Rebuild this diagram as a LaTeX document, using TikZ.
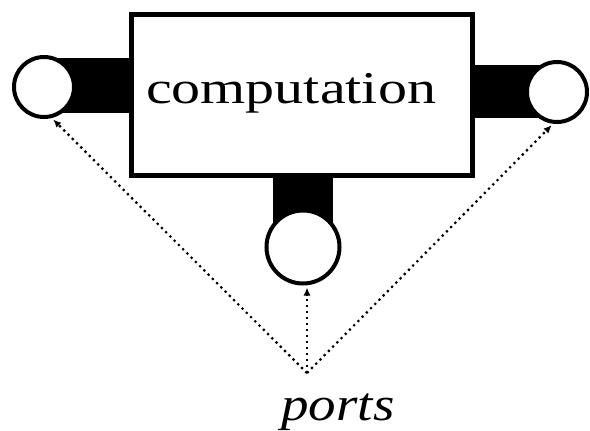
\documentclass[tikz,border=0pt]{standalone}
\usepackage{fontspec}
\usepackage{graphicx}
\setmainfont{Liberation Serif}
\usetikzlibrary{arrows.meta}
\begin{document}
\begin{tikzpicture}[x=1pt,y=-1pt,
  compbox/.style={draw,line width=5pt,rectangle,minimum width=341pt,minimum height=161pt,inner sep=0pt},
  port/.style={draw,line width=4pt,circle,fill=white,minimum size=60pt,inner sep=0pt},
  bigport/.style={port,minimum size=73pt},
  plug/.style={fill=black,draw=none},
  portarrow/.style={line width=2.2pt,dash pattern=on 2.2pt off 3.8pt,
    -{Latex[length=8pt,width=7pt]},shorten >=2pt},
  bodytext/.style={font=\fontsize{50}{60}\selectfont,inner sep=0pt,anchor=base}]
  \useasboundingbox (0,0) rectangle (590,431);

  % black plugs joining the ports to the block
  \fill[plug] (44,58) rectangle (131,113);
  \fill[plug] (472,65) rectangle (557,118);
  \fill[plug] (273,175) rectangle (333,247);

  % computation block
  \node[compbox] (comp) at (302,95) {};
  \node[bodytext] (comptext) at (291,103) {\scalebox{1.16}[0.91]{computation}};

  % ports
  \node[port] (pl) at (44,87) {};
  \node[port] (pr) at (557,92) {};
  \node[bigport] (pb) at (303,247) {};

  % label and pointers
  \coordinate (apex) at (307,373);
  \node[bodytext,font=\fontsize{50}{60}\selectfont\itshape] (ports) at (338,420) {\scalebox{1.1}[0.95]{ports}};
  \draw[portarrow] (apex) -- (pl.-76);
  \draw[portarrow] (apex) -- (pr.-97);
  \draw[portarrow] (apex) -- (apex |- pb.south);
\end{tikzpicture}
\end{document}
